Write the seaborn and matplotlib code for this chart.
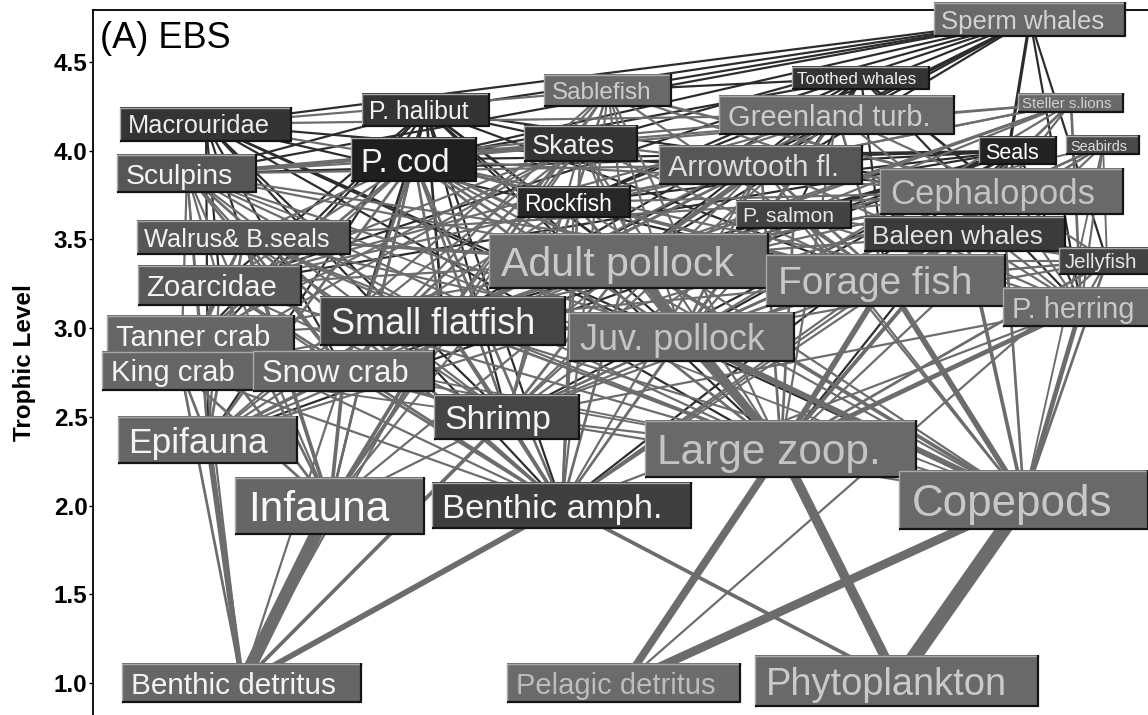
import matplotlib
matplotlib.use("Agg")
import numpy as np
import pandas as pd
import matplotlib.pyplot as plt
import seaborn as sns
from matplotlib.patches import Rectangle
from matplotlib.lines import Line2D

# ---------------------------------------------------------------- data
groups = [
    "Sperm whales", "Toothed whales", "Sablefish", "P. halibut", "Macrouridae",
    "Greenland turb.", "Steller s.lions", "Skates", "P. cod", "Arrowtooth fl.",
    "Sculpins", "Seals", "Seabirds", "Cephalopods", "Rockfish", "P. salmon",
    "Walrus& B.seals", "Baleen whales", "Adult pollock", "Jellyfish",
    "Forage fish", "Zoarcidae", "Small flatfish", "P. herring", "Juv. pollock",
    "Tanner crab", "King crab", "Snow crab", "Shrimp", "Epifauna",
    "Large zoop.", "Infauna", "Benthic amph.", "Copepods",
    "Benthic detritus", "Pelagic detritus", "Phytoplankton",
]

trophic_level = [
    4.74, 4.41, 4.34, 4.23, 4.15,
    4.20, 4.27, 4.04, 3.95, 3.92,
    3.87, 4.00, 4.03, 3.77, 3.71, 3.64,
    3.51, 3.53, 3.38, 3.38,
    3.27, 3.24, 3.04, 3.12, 2.95,
    2.96, 2.76, 2.76, 2.50, 2.37,
    2.32, 2.00, 2.00, 2.03,
    1.00, 1.00, 1.01,
]

# feeding links: (predator, prey, flow)
mammal_bird_links = [
    ("Sperm whales", "Cephalopods", 2.5), ("Sperm whales", "Macrouridae", 1.5),
    ("Sperm whales", "Sablefish", 1.5), ("Sperm whales", "Greenland turb.", 1.5),
    ("Sperm whales", "P. halibut", 1.5), ("Sperm whales", "Skates", 1.5),
    ("Sperm whales", "Rockfish", 1.5), ("Sperm whales", "Arrowtooth fl.", 1.5),
    ("Sperm whales", "P. cod", 1.5), ("Sperm whales", "Adult pollock", 1.5),
    ("Sperm whales", "Sculpins", 1.5), ("Sperm whales", "Zoarcidae", 1.5),
    ("Sperm whales", "P. herring", 1.5), ("Sperm whales", "Small flatfish", 1.5),
    ("Sperm whales", "Jellyfish", 1.5),
    ("Toothed whales", "Cephalopods", 2), ("Toothed whales", "Adult pollock", 1.5),
    ("Toothed whales", "Forage fish", 1.5), ("Toothed whales", "P. salmon", 1.5),
    ("Toothed whales", "P. herring", 1.5), ("Toothed whales", "P. cod", 1.5),
    ("Toothed whales", "Juv. pollock", 1.5), ("Toothed whales", "Greenland turb.", 1.5),
    ("Toothed whales", "Sablefish", 1.5), ("Toothed whales", "Rockfish", 1.5),
    ("Toothed whales", "Arrowtooth fl.", 1.5), ("Toothed whales", "Small flatfish", 1.5),
    ("Steller s.lions", "Adult pollock", 2), ("Steller s.lions", "Juv. pollock", 1.5),
    ("Steller s.lions", "P. cod", 1.5), ("Steller s.lions", "P. herring", 2),
    ("Steller s.lions", "Forage fish", 2), ("Steller s.lions", "Cephalopods", 1.5),
    ("Steller s.lions", "P. salmon", 1.5), ("Steller s.lions", "Small flatfish", 1.5),
    ("Steller s.lions", "Sculpins", 1.5), ("Steller s.lions", "Arrowtooth fl.", 1.5),
    ("Steller s.lions", "Rockfish", 1.5),
    ("Seals", "Adult pollock", 2), ("Seals", "Juv. pollock", 1.5),
    ("Seals", "Forage fish", 2), ("Seals", "P. herring", 1.5),
    ("Seals", "P. cod", 1.5), ("Seals", "Cephalopods", 1.5),
    ("Seals", "Small flatfish", 1.5), ("Seals", "Shrimp", 1.5),
    ("Seals", "Sculpins", 1.5), ("Seals", "Snow crab", 1.5),
    ("Seals", "Large zoop.", 1.5), ("Seals", "Zoarcidae", 1.5),
    ("Seals", "Arrowtooth fl.", 1.5), ("Seals", "Rockfish", 1.5),
    ("Seals", "P. salmon", 1.5), ("Seals", "Epifauna", 1.5),
    ("Seals", "Benthic amph.", 1.5),
    ("Seabirds", "Forage fish", 2), ("Seabirds", "Juv. pollock", 1.5),
    ("Seabirds", "Large zoop.", 1.5), ("Seabirds", "Copepods", 1.2),
    ("Seabirds", "Cephalopods", 1.5), ("Seabirds", "P. herring", 1.5),
    ("Seabirds", "Jellyfish", 1.2), ("Seabirds", "Shrimp", 1.2),
    ("Seabirds", "Adult pollock", 1.2),
    ("Walrus& B.seals", "Infauna", 3), ("Walrus& B.seals", "Epifauna", 2),
    ("Walrus& B.seals", "Snow crab", 2), ("Walrus& B.seals", "Tanner crab", 1.5),
    ("Walrus& B.seals", "Shrimp", 1.5), ("Walrus& B.seals", "Benthic amph.", 2),
    ("Walrus& B.seals", "King crab", 1.5), ("Walrus& B.seals", "Sculpins", 1.5),
    ("Walrus& B.seals", "Zoarcidae", 1.5), ("Walrus& B.seals", "Small flatfish", 1.5),
    ("Walrus& B.seals", "P. cod", 1.5), ("Walrus& B.seals", "Cephalopods", 1.5),
    ("Walrus& B.seals", "Juv. pollock", 1.5), ("Walrus& B.seals", "Adult pollock", 1.5),
    ("Walrus& B.seals", "Forage fish", 1.5), ("Walrus& B.seals", "Large zoop.", 1.5),
    ("Baleen whales", "Large zoop.", 3), ("Baleen whales", "Copepods", 3),
    ("Baleen whales", "Forage fish", 2), ("Baleen whales", "Juv. pollock", 2),
    ("Baleen whales", "P. herring", 1.5), ("Baleen whales", "Cephalopods", 1.5),
    ("Baleen whales", "Adult pollock", 1.5), ("Baleen whales", "Shrimp", 1.5),
    ("Baleen whales", "Benthic amph.", 1.5),
]

groundfish_links = [
    ("Sablefish", "Cephalopods", 2), ("Sablefish", "Forage fish", 1.5),
    ("Sablefish", "Juv. pollock", 1.5), ("Sablefish", "Adult pollock", 1.5),
    ("Sablefish", "Large zoop.", 1.5), ("Sablefish", "Shrimp", 1.5),
    ("Sablefish", "Jellyfish", 1.5), ("Sablefish", "Benthic amph.", 1.5),
    ("Sablefish", "Macrouridae", 1.5), ("Sablefish", "Rockfish", 1.5),
    ("Sablefish", "Small flatfish", 1.5), ("Sablefish", "Snow crab", 1.5),
    ("Sablefish", "Epifauna", 1.5), ("Sablefish", "Infauna", 1.5),
    ("P. halibut", "P. cod", 2), ("P. halibut", "Adult pollock", 2),
    ("P. halibut", "Snow crab", 2), ("P. halibut", "Tanner crab", 1.5),
    ("P. halibut", "Small flatfish", 2), ("P. halibut", "Sculpins", 1.5),
    ("P. halibut", "Zoarcidae", 1.5), ("P. halibut", "Shrimp", 1.5),
    ("P. halibut", "Epifauna", 1.5), ("P. halibut", "Infauna", 1.5),
    ("P. halibut", "Juv. pollock", 1.5), ("P. halibut", "Cephalopods", 1.5),
    ("P. halibut", "King crab", 1.5), ("P. halibut", "Skates", 1.5),
    ("P. halibut", "Forage fish", 1.5), ("P. halibut", "Benthic amph.", 1.5),
    ("P. halibut", "Large zoop.", 1.5),
    ("Macrouridae", "Shrimp", 1.5), ("Macrouridae", "Large zoop.", 1.5),
    ("Macrouridae", "Cephalopods", 1.5), ("Macrouridae", "Benthic amph.", 1.5),
    ("Macrouridae", "Epifauna", 1.5), ("Macrouridae", "Infauna", 1.5),
    ("Macrouridae", "Forage fish", 1.5), ("Macrouridae", "Snow crab", 1.5),
    ("Macrouridae", "Zoarcidae", 1.5), ("Macrouridae", "Juv. pollock", 1.5),
    ("Macrouridae", "Copepods", 1.5),
    ("Greenland turb.", "Adult pollock", 2.5), ("Greenland turb.", "Juv. pollock", 2),
    ("Greenland turb.", "Cephalopods", 1.5), ("Greenland turb.", "Forage fish", 2),
    ("Greenland turb.", "Large zoop.", 1.5), ("Greenland turb.", "Shrimp", 1.5),
    ("Greenland turb.", "Rockfish", 1.5), ("Greenland turb.", "Small flatfish", 1.5),
    ("Greenland turb.", "Benthic amph.", 1.5), ("Greenland turb.", "P. herring", 1.5),
    ("Greenland turb.", "Zoarcidae", 1.5), ("Greenland turb.", "Macrouridae", 1.5),
    ("Greenland turb.", "Sculpins", 1.5),
    ("Skates", "Snow crab", 2), ("Skates", "Tanner crab", 1.5),
    ("Skates", "Shrimp", 1.5), ("Skates", "Benthic amph.", 2),
    ("Skates", "Infauna", 1.5), ("Skates", "Epifauna", 1.5),
    ("Skates", "Small flatfish", 1.5), ("Skates", "Adult pollock", 1.5),
    ("Skates", "Juv. pollock", 1.5), ("Skates", "Zoarcidae", 1.5),
    ("Skates", "Sculpins", 1.5), ("Skates", "Forage fish", 1.5),
    ("Skates", "P. cod", 1.5), ("Skates", "Large zoop.", 1.5),
    ("Skates", "King crab", 1.5), ("Skates", "Cephalopods", 1.5),
    ("P. cod", "Adult pollock", 2.5), ("P. cod", "Snow crab", 2.5),
    ("P. cod", "Tanner crab", 2), ("P. cod", "Juv. pollock", 2),
    ("P. cod", "Shrimp", 2), ("P. cod", "Small flatfish", 2),
    ("P. cod", "Benthic amph.", 2), ("P. cod", "Infauna", 2),
    ("P. cod", "Epifauna", 2), ("P. cod", "Large zoop.", 2),
    ("P. cod", "Forage fish", 2), ("P. cod", "P. herring", 1.5),
    ("P. cod", "Sculpins", 1.5), ("P. cod", "Zoarcidae", 1.5),
    ("P. cod", "King crab", 1.5), ("P. cod", "Cephalopods", 1.5),
    ("P. cod", "Copepods", 1.5), ("P. cod", "Rockfish", 1.5),
    ("P. cod", "Macrouridae", 1.5),
    ("Arrowtooth fl.", "Adult pollock", 2.5), ("Arrowtooth fl.", "Juv. pollock", 2),
    ("Arrowtooth fl.", "Forage fish", 2), ("Arrowtooth fl.", "Large zoop.", 2),
    ("Arrowtooth fl.", "Shrimp", 1.5), ("Arrowtooth fl.", "Cephalopods", 1.5),
    ("Arrowtooth fl.", "P. herring", 1.5), ("Arrowtooth fl.", "Small flatfish", 1.5),
    ("Arrowtooth fl.", "Benthic amph.", 1.5), ("Arrowtooth fl.", "Rockfish", 1.5),
    ("Arrowtooth fl.", "Zoarcidae", 1.5), ("Arrowtooth fl.", "Sculpins", 1.5),
    ("Arrowtooth fl.", "Copepods", 1.5), ("Arrowtooth fl.", "Epifauna", 1.5),
    ("Arrowtooth fl.", "Snow crab", 1.5),
    ("Sculpins", "Snow crab", 2), ("Sculpins", "Tanner crab", 1.5),
    ("Sculpins", "Benthic amph.", 2), ("Sculpins", "Epifauna", 1.5),
    ("Sculpins", "Infauna", 1.5), ("Sculpins", "Shrimp", 1.5),
    ("Sculpins", "Small flatfish", 1.5), ("Sculpins", "Juv. pollock", 1.5),
    ("Sculpins", "King crab", 1.5), ("Sculpins", "Zoarcidae", 1.5),
    ("Sculpins", "Large zoop.", 1.5), ("Sculpins", "Forage fish", 1.5),
    ("Sculpins", "Adult pollock", 1.5), ("Sculpins", "Copepods", 1.2),
    ("Rockfish", "Large zoop.", 2), ("Rockfish", "Forage fish", 1.5),
    ("Rockfish", "Shrimp", 1.5), ("Rockfish", "Copepods", 1.5),
    ("Rockfish", "Cephalopods", 1.5), ("Rockfish", "Juv. pollock", 1.5),
    ("Rockfish", "Benthic amph.", 1.5), ("Rockfish", "Epifauna", 1.5),
    ("Rockfish", "Infauna", 1.5),
    ("Zoarcidae", "Infauna", 2), ("Zoarcidae", "Benthic amph.", 2),
    ("Zoarcidae", "Epifauna", 1.5), ("Zoarcidae", "Shrimp", 1.5),
    ("Zoarcidae", "Snow crab", 1.5), ("Zoarcidae", "Large zoop.", 1.5),
    ("Zoarcidae", "Tanner crab", 1.5), ("Zoarcidae", "King crab", 1.2),
    ("Small flatfish", "Infauna", 3), ("Small flatfish", "Benthic amph.", 3),
    ("Small flatfish", "Shrimp", 2), ("Small flatfish", "Epifauna", 2),
    ("Small flatfish", "Snow crab", 2), ("Small flatfish", "Large zoop.", 2),
    ("Small flatfish", "Copepods", 1.5), ("Small flatfish", "Juv. pollock", 1.5),
    ("Small flatfish", "Tanner crab", 1.5), ("Small flatfish", "Forage fish", 1.5),
    ("Small flatfish", "King crab", 1.5), ("Small flatfish", "Benthic detritus", 1.5),
]

pelagic_links = [
    ("Cephalopods", "Large zoop.", 2.5), ("Cephalopods", "Copepods", 2),
    ("Cephalopods", "Forage fish", 2), ("Cephalopods", "Juv. pollock", 2),
    ("Cephalopods", "Shrimp", 1.5), ("Cephalopods", "Benthic amph.", 1.5),
    ("Cephalopods", "Jellyfish", 1.5), ("Cephalopods", "P. herring", 1.5),
    ("Cephalopods", "Adult pollock", 1.5), ("Cephalopods", "Small flatfish", 1.5),
    ("Cephalopods", "Epifauna", 1.5),
    ("P. salmon", "Large zoop.", 2), ("P. salmon", "Copepods", 1.5),
    ("P. salmon", "Forage fish", 2), ("P. salmon", "Cephalopods", 1.5),
    ("P. salmon", "Juv. pollock", 1.5), ("P. salmon", "Jellyfish", 1.5),
    ("P. salmon", "P. herring", 1.5), ("P. salmon", "Shrimp", 1.5),
    ("Adult pollock", "Large zoop.", 6), ("Adult pollock", "Juv. pollock", 4),
    ("Adult pollock", "Copepods", 3), ("Adult pollock", "Forage fish", 2.5),
    ("Adult pollock", "Shrimp", 2), ("Adult pollock", "Benthic amph.", 2),
    ("Adult pollock", "Cephalopods", 2), ("Adult pollock", "Small flatfish", 1.5),
    ("Adult pollock", "Infauna", 1.5), ("Adult pollock", "Snow crab", 1.5),
    ("Adult pollock", "Jellyfish", 1.5), ("Adult pollock", "Epifauna", 1.5),
    ("Adult pollock", "Zoarcidae", 1.5), ("Adult pollock", "P. herring", 1.5),
    ("Adult pollock", "Tanner crab", 1.5),
    ("Jellyfish", "Copepods", 2), ("Jellyfish", "Large zoop.", 2),
    ("Jellyfish", "Forage fish", 1.5), ("Jellyfish", "Juv. pollock", 1.5),
    ("Jellyfish", "Pelagic detritus", 1.5),
    ("Forage fish", "Large zoop.", 5), ("Forage fish", "Copepods", 5),
    ("Forage fish", "Benthic amph.", 1.5), ("Forage fish", "Shrimp", 1.5),
    ("Forage fish", "Jellyfish", 1.5), ("Forage fish", "Juv. pollock", 1.5),
    ("P. herring", "Large zoop.", 4), ("P. herring", "Copepods", 4),
    ("P. herring", "Forage fish", 1.5), ("P. herring", "Benthic amph.", 1.5),
    ("P. herring", "Jellyfish", 1.5), ("P. herring", "Shrimp", 1.5),
    ("Juv. pollock", "Large zoop.", 5), ("Juv. pollock", "Copepods", 5),
    ("Juv. pollock", "Benthic amph.", 1.5), ("Juv. pollock", "Shrimp", 1.5),
]

benthic_plankton_links = [
    ("Tanner crab", "Infauna", 2), ("Tanner crab", "Epifauna", 1.5),
    ("Tanner crab", "Benthic amph.", 1.5), ("Tanner crab", "Benthic detritus", 1.5),
    ("Tanner crab", "Shrimp", 1.5), ("Tanner crab", "Snow crab", 1.5),
    ("Tanner crab", "Large zoop.", 1.2),
    ("King crab", "Infauna", 2), ("King crab", "Epifauna", 2),
    ("King crab", "Benthic detritus", 2), ("King crab", "Benthic amph.", 1.5),
    ("King crab", "Shrimp", 1.2), ("King crab", "Snow crab", 1.2),
    ("Snow crab", "Infauna", 3), ("Snow crab", "Epifauna", 2),
    ("Snow crab", "Benthic amph.", 2), ("Snow crab", "Benthic detritus", 1.5),
    ("Snow crab", "Shrimp", 1.5), ("Snow crab", "Large zoop.", 1.2),
    ("Shrimp", "Benthic detritus", 3), ("Shrimp", "Benthic amph.", 1.5),
    ("Shrimp", "Infauna", 1.5), ("Shrimp", "Large zoop.", 1.5),
    ("Shrimp", "Copepods", 1.5),
    ("Epifauna", "Benthic detritus", 5),
    ("Large zoop.", "Phytoplankton", 9), ("Large zoop.", "Pelagic detritus", 7),
    ("Large zoop.", "Copepods", 3),
    ("Infauna", "Benthic detritus", 12),
    ("Benthic amph.", "Benthic detritus", 5), ("Benthic amph.", "Phytoplankton", 3),
    ("Copepods", "Phytoplankton", 14), ("Copepods", "Pelagic detritus", 8),
]

# ---------------------------------------------------------------- layout & style
# horizontal placement of each group's label (same order as `groups`)
node_x = [
    1030, 861, 608, 426, 206,
    837, 1071, 581, 414, 761,
    187, 1018, 1103, 1002, 574, 794,
    244, 965, 629, 1107,
    886, 220, 443, 1081, 682,
    201, 181, 344, 507, 208,
    781, 330, 562, 1024,
    242, 624, 897,
]
label_pt = [
    18.5, 12.3, 17.5, 17.8, 18.3,
    21.0, 10.8, 19.5, 23.6, 20.9,
    20.4, 15.5, 10.4, 25.0, 16.5, 15.2,
    18.3, 18.9, 29.6, 14.8,
    28.0, 21.2, 26.0, 21.0, 25.9,
    21.1, 21.1, 22.3, 24.3, 25.5,
    30.5, 30.5, 24.8, 31.6,
    21.4, 21.0, 27.4,
]
box_face = [
    "#696969", "#343434", "#696969", "#343434", "#343434",
    "#696969", "#696969", "#343434", "#1f1f1f", "#565656",
    "#565656", "#232323", "#4a4a4a", "#696969", "#272727", "#434343",
    "#565656", "#3b3b3b", "#696969", "#434343",
    "#696969", "#595959", "#454545", "#696969", "#696969",
    "#666666", "#666666", "#666666", "#454545", "#666666",
    "#696969", "#666666", "#3f3f3f", "#696969",
    "#666666", "#6b6b6b", "#696969",
]
label_face = [
    "#d2d2d2", "#eeeeee", "#cdcdcd", "#f2f2f2", "#ececec",
    "#cdcdcd", "#d0d0d0", "#eeeeee", "#f4f4f4", "#dddddd",
    "#f4f4f4", "#ffffff", "#dddddd", "#c4c4c4", "#ffffff", "#e6e6e6",
    "#f2f2f2", "#e2e2e2", "#cacaca", "#e6e6e6",
    "#c8c8c8", "#f4f4f4", "#f4f4f4", "#c8c8c8", "#c4c4c4",
    "#f4f4f4", "#f4f4f4", "#f4f4f4", "#f4f4f4", "#f4f4f4",
    "#c4c4c4", "#fafafa", "#f4f4f4", "#c8c8c8",
    "#f4f4f4", "#bdbdbd", "#cacaca",
]
dark_line_predators = {"Sperm whales", "Toothed whales", "P. halibut",
                       "Macrouridae", "Seals"}
line_palette = {"dark": "#2c2c2c", "mid": "#6c6c6c"}

# ---------------------------------------------------------------- figure
sns.set_theme(style="white")
plt.rcParams["font.family"] = ["Liberation Sans", "DejaVu Sans"]
plt.rcParams["lines.solid_capstyle"] = "butt"

DPI = 100
fig = plt.figure(figsize=(11.48, 7.15), dpi=DPI)
fig.patch.set_facecolor("white")
ax = fig.add_axes([93 / 1148, 0.0, 1055 / 1148, 705 / 715])
ax.set_facecolor("white")
ax.set_xlim(93, 1148)
ax.set_ylim(0.82, 4.793)

pos = {g: (x, t) for g, x, t in zip(groups, node_x, trophic_level)}

# edges as two-point segments, drawn through seaborn
rows = []
all_links = mammal_bird_links + groundfish_links + pelagic_links + benthic_plankton_links
for k, (pred, prey, flow) in enumerate(all_links):
    tone = "dark" if pred in dark_line_predators else "mid"
    for g in (prey, pred):
        rows.append({"link": k, "x": pos[g][0], "y": pos[g][1],
                     "tone": tone, "flow": flow})
edges = pd.DataFrame(rows)
fmin, fmax = edges["flow"].min(), edges["flow"].max()
px2pt = 72.0 / DPI
sns.lineplot(data=edges, x="x", y="y", units="link", estimator=None,
             sort=False, hue="tone", palette=line_palette, size="flow",
             sizes=((fmin + 0.7) * px2pt, (fmax + 0.7) * px2pt),
             size_norm=(fmin, fmax), legend=False, ax=ax, zorder=2)

# axis styling
for side in ("right", "bottom"):
    ax.spines[side].set_visible(False)
for side in ("left", "top"):
    ax.spines[side].set_visible(True)
    ax.spines[side].set_color("black")
    ax.spines[side].set_linewidth(1.3)
ax.set_xticks([])
ax.set_xlabel("")
yt = np.arange(1.0, 4.51, 0.5)
ax.set_yticks(yt)
ax.set_yticklabels([f"{v:.1f}" for v in yt], fontweight="bold")
ax.tick_params(axis="y", direction="out", length=3, width=1.0, pad=1,
               labelsize=17.5, colors="black", left=True)
ax.set_ylabel("Trophic Level", fontsize=17.5, fontweight="bold",
              color="black", labelpad=13)
ax.text(0.0066, 0.946, "(A) EBS", transform=ax.transAxes, fontsize=26,
        color="black", ha="left", va="baseline", zorder=20)

# node labels in bevelled boxes
fig.canvas.draw()
renderer = fig.canvas.get_renderer()
px_x = ax.bbox.width / (ax.get_xlim()[1] - ax.get_xlim()[0])
px_y = ax.bbox.height / (ax.get_ylim()[1] - ax.get_ylim()[0])

for i, g in enumerate(groups):
    x, tl = pos[g]
    fs = label_pt[i]
    em = fs * DPI / 72.0
    z = 3 + 0.01 * i
    t = ax.text(x, tl, g, fontsize=fs, color=label_face[i], ha="left",
                va="baseline", zorder=z + 0.006, clip_on=False)
    w = t.get_window_extent(renderer).width
    W = (w + 1.15 * em) / px_x
    H = 1.37 * em / px_y
    left, bottom = x - W / 2, tl - H / 2
    right, top = left + W, bottom + H
    t.set_position((left + 0.3 * em / px_x, tl - 0.365 * em / px_y))
    ax.add_patch(Rectangle((left, bottom), W, H, facecolor=box_face[i],
                           edgecolor="none", zorder=z, clip_on=False))
    dx, dy = 1.0 / px_x, 1.0 / px_y
    ax.add_line(Line2D([left, left, right], [bottom, top - dy, top - dy],
                       color="#a9a9a9", lw=1.0, zorder=z + 0.002,
                       clip_on=False, solid_capstyle="butt"))
    ax.add_line(Line2D([left, right - dx, right - dx], [bottom + dy, bottom + dy, top],
                       color="#141414", lw=1.6, zorder=z + 0.003,
                       clip_on=False, solid_capstyle="butt"))

fig.savefig("out.png", dpi=DPI, facecolor="white")
